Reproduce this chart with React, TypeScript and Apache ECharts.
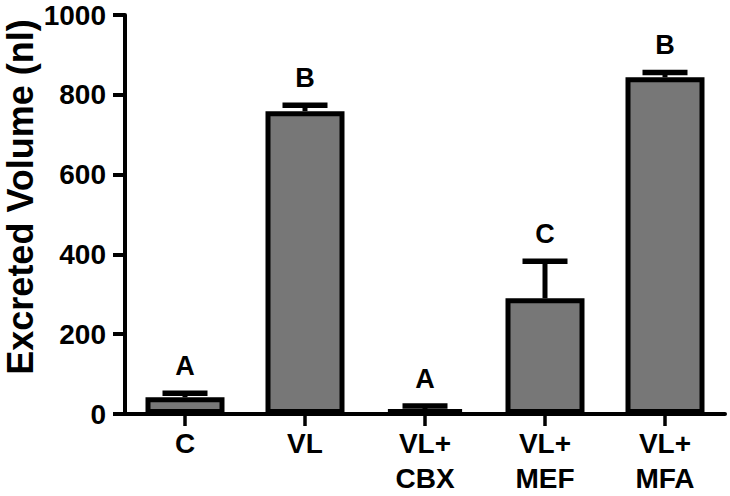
import React, { useEffect, useRef } from "react";
import * as echarts from "echarts";

const categories = ["C", "VL", "VL+\nCBX", "VL+\nMEF", "VL+\nMFA"];
const means = [42, 759, 12, 290, 844];
const errors = [10, 15, 8, 93, 12];
const letters = ["A", "B", "A", "C", "B"];
const yTicks = { min: 0, max: 1000, interval: 200 };
const yTitle = "Excreted Volume (nl)";

const FONT = "'Liberation Sans', Arial, Helvetica, sans-serif";

export default function App() {
  const ref = useRef<HTMLDivElement>(null);
  useEffect(() => {
    if (!ref.current) return;
    const chart = echarts.init(ref.current, null, { renderer: "svg" });
    const errData = means.map((m, i) => [i, m, m + errors[i], letters[i]]);
    chart.setOption({
      animation: false,
      backgroundColor: "#ffffff",
      grid: { left: 125, top: 15, width: 600, height: 401, containLabel: false },
      xAxis: {
        type: "category",
        data: categories,
        boundaryGap: true,
        axisLine: { show: true, lineStyle: { color: "#000", width: 4 } },
        axisTick: { show: true, alignWithLabel: true, length: 12, lineStyle: { color: "#000", width: 3.5 } },
        axisLabel: {
          color: "#000",
          fontFamily: FONT,
          fontWeight: "bold",
          fontSize: 28,
          lineHeight: 35,
          margin: 12,
          interval: 0,
        },
        splitLine: { show: false },
      },
      yAxis: {
        type: "value",
        min: yTicks.min,
        max: yTicks.max,
        interval: yTicks.interval,
        axisLine: { show: true, lineStyle: { color: "#000", width: 4 } },
        axisTick: { show: true, length: 12, lineStyle: { color: "#000", width: 4 } },
        axisLabel: {
          color: "#000",
          fontFamily: FONT,
          fontWeight: "bold",
          fontSize: 28,
          margin: 19,
          formatter: (v: number) => String(v),
        },
        splitLine: { show: false },
      },
      graphic: [
        {
          type: "text",
          x: 20,
          y: 197,
          rotation: Math.PI / 2,
          style: {
            text: yTitle,
            fill: "#000",
            font: `bold 36px ${FONT}`,
            textAlign: "center",
            textVerticalAlign: "middle",
          },
        },
      ],
      series: [
        {
          type: "bar",
          data: means,
          barWidth: 79,
          itemStyle: { color: "#777777", borderColor: "#000", borderWidth: 5 },
          z: 2,
        },
        {
          type: "custom",
          data: errData,
          z: 5,
          renderItem: (params: any, api: any) => {
            const i = api.value(0);
            const m = api.value(1);
            const t = api.value(2);
            const letter = letters[params.dataIndex];
            const p0 = api.coord([i, m]);
            const p1 = api.coord([i, t]);
            const half = 22.5;
            return {
              type: "group",
              children: [
                {
                  type: "line",
                  shape: { x1: p0[0], y1: p0[1], x2: p1[0], y2: p1[1] },
                  style: { stroke: "#000", lineWidth: 5 },
                },
                {
                  type: "line",
                  shape: { x1: p1[0] - half, y1: p1[1], x2: p1[0] + half, y2: p1[1] },
                  style: { stroke: "#000", lineWidth: 5.5 },
                },
                {
                  type: "text",
                  x: p1[0],
                  y: p1[1] - 27,
                  style: {
                    text: letter,
                    fill: "#000",
                    font: `bold 27px ${FONT}`,
                    textAlign: "center",
                    textVerticalAlign: "middle",
                  },
                },
              ],
            };
          },
        },
      ],
    });
    return () => chart.dispose();
  }, []);
  return (
    <div
      ref={ref}
      style={{ position: "fixed", left: 0, top: 0, width: 730, height: 496 }}
    />
  );
}
